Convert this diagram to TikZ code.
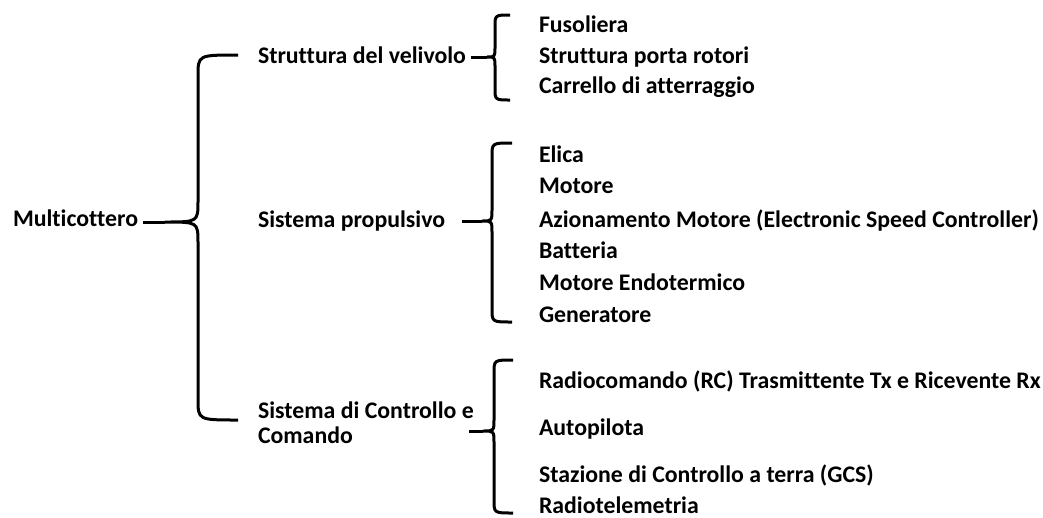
\documentclass[tikz,border=0pt]{standalone}
\usepackage{fontspec}
\setmainfont{Carlito}[Ligatures=NoCommon]
\usetikzlibrary{positioning}

\begin{document}
\begin{tikzpicture}
  [x=1pt,y=-1pt,
   every node/.style={font=\bfseries\fontsize{23.8}{27}\selectfont,anchor=base west,inner sep=0pt,outer sep=5pt},
   curly/.style={line width=3pt,line join=round}]
  \useasboundingbox (0,0) rectangle (1043,517);
  % first level
  \node (multi) at (8,226) {Multicottero};
  % second level
  \node (strutt) at (253,63)  {Struttura del velivolo};
  \node (prop)   at (253,227) {Sistema propulsivo};
  \node (contr)  at (253,418) {Sistema di Controllo e};
  \node (coman)  at (253,443) {Comando};
  % third level
  \node (fus)   at (534,32)  {Fusoliera};
  \node (porta) at (534,63)  {Struttura porta rotori};
  \node (carr)  at (534,93)  {Carrello di atterraggio};
  \node (elica) at (534,162) {Elica};
  \node (mot)   at (534,193) {Motore};
  \node (esc)   at (534,227) {Azionamento Motore (Electronic Speed Controller)};
  \node (batt)  at (534,258) {Batteria};
  \node (endo)  at (534,290) {Motore Endotermico};
  \node (gen)   at (534,322) {Generatore};
  \node (rc)    at (534,388) {Radiocomando (RC) Trasmittente Tx e Ricevente Rx};
  \node (auto)  at (534,435) {Autopilota};
  \node (gcs)   at (534,482) {Stazione di Controllo a terra (GCS)};
  \node (tele)  at (534,513) {Radiotelemetria};
  % tips of the braces
  \coordinate (t1) at (165,222);
  \coordinate (t2) at (487,57);
  \coordinate (t3) at (482,221);
  \coordinate (t4) at (483,431);
  \draw[curly] (multi.east |- t1) -- (t1);
  \draw[curly] (strutt.east |- t2) -- (t2);
  \draw[curly] ([xshift=12pt]prop.east |- t3) -- (t3);
  \draw[curly] ([xshift=-10pt]contr.east |- t4) -- (t4);
  % braces
  \draw[curly] (238,55) .. controls (198,55) .. (198,76) -- (198,201)
    .. controls (198,222) .. (t1) .. controls (198,222) .. (198,243)
    -- (198,399) .. controls (198,420) .. (238,420);
  \draw[curly] (510,15) .. controls (495,15) .. (495,27) -- (495,47)
    .. controls (495,57) .. (t2) .. controls (495,57) .. (495,67)
    -- (495,88) .. controls (495,100) .. (510,100);
  \draw[curly] (512,143) .. controls (492,143) .. (492,156) -- (492,209)
    .. controls (492,221) .. (t3) .. controls (492,221) .. (492,233)
    -- (492,309) .. controls (492,322) .. (512,322);
  \draw[curly] (513,360) .. controls (494,360) .. (494,373) -- (494,419)
    .. controls (494,431) .. (t4) .. controls (494,431) .. (494,443)
    -- (494,500) .. controls (494,513) .. (513,513);
\end{tikzpicture}
\end{document}
